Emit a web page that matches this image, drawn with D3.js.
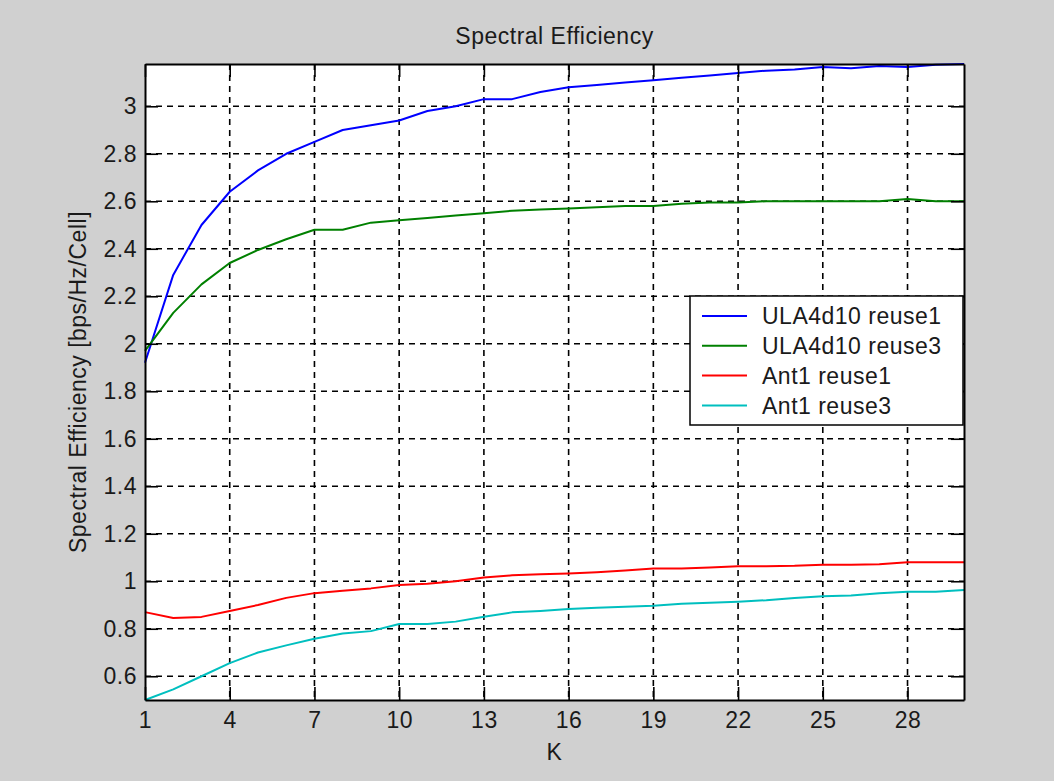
<!DOCTYPE html>
<html>
<head>
<meta charset="utf-8">
<script src="https://cdn.jsdelivr.net/npm/d3@7"></script>
<style>
  html, body { margin: 0; padding: 0; background: #d0d0d0; }
  svg { display: block; }
  text { font-family: "Liberation Sans", Arial, Helvetica, sans-serif; fill: #1a1a1a; letter-spacing: 0.5px; }
</style>
</head>
<body>
<svg id="chart" width="1054" height="781"></svg>
<script>
// Number of users K
const kValues = d3.range(1, 31);

// Spectral efficiency per cell [bps/Hz/Cell] for each configuration
const ula4d10Reuse1 = [1.92, 2.29, 2.50, 2.64, 2.73, 2.80, 2.85, 2.90, 2.92, 2.94,
                       2.98, 3.00, 3.03, 3.03, 3.06, 3.08, 3.09, 3.10, 3.11, 3.12,
                       3.13, 3.14, 3.15, 3.155, 3.165, 3.16, 3.17, 3.165, 3.175, 3.178];
const ula4d10Reuse3 = [1.97, 2.13, 2.25, 2.34, 2.395, 2.44, 2.48, 2.48, 2.51, 2.52,
                       2.53, 2.54, 2.55, 2.56, 2.565, 2.57, 2.575, 2.58, 2.58, 2.59,
                       2.595, 2.595, 2.60, 2.60, 2.60, 2.60, 2.60, 2.61, 2.60, 2.60];
const ant1Reuse1    = [0.87, 0.845, 0.85, 0.875, 0.90, 0.93, 0.95, 0.96, 0.97, 0.984,
                       0.99, 1.00, 1.016, 1.025, 1.03, 1.033, 1.038, 1.045, 1.054, 1.054,
                       1.058, 1.063, 1.063, 1.065, 1.07, 1.07, 1.072, 1.08, 1.08, 1.08];
const ant1Reuse3    = [0.50, 0.545, 0.60, 0.655, 0.70, 0.73, 0.758, 0.78, 0.79, 0.82,
                       0.82, 0.83, 0.851, 0.869, 0.875, 0.883, 0.888, 0.893, 0.897, 0.905,
                       0.91, 0.914, 0.92, 0.93, 0.937, 0.94, 0.95, 0.956, 0.956, 0.963];

const seriesNames  = ["ULA4d10 reuse1", "ULA4d10 reuse3", "Ant1 reuse1", "Ant1 reuse3"];
const seriesValues = [ula4d10Reuse1, ula4d10Reuse3, ant1Reuse1, ant1Reuse3];
const seriesColors = ["#0000ff", "#008000", "#ff0000", "#00bfbf"];

const xTickValues = [1, 4, 7, 10, 13, 16, 19, 22, 25, 28];
const yTickValues = [0.6, 0.8, 1, 1.2, 1.4, 1.6, 1.8, 2, 2.2, 2.4, 2.6, 2.8, 3];

const titleText  = "Spectral Efficiency";
const xLabelText = "K";
const yLabelText = "Spectral Efficiency [bps/Hz/Cell]";

// Layout of the axes box
const boxLeft = 145, boxRight = 964, boxTop = 64, boxBottom = 700;
const fontSize = 23;

const svg = d3.select("#chart");

const x = d3.scaleLinear().domain([1, 30]).range([boxLeft, boxRight]);
const yMin = d3.min(seriesValues, s => d3.min(s));
const yMax = d3.max(seriesValues, s => d3.max(s));
const y = d3.scaleLinear().domain([yMin, yMax]).range([boxBottom, boxTop]);

// White plotting area
svg.append("rect")
  .attr("x", boxLeft).attr("y", boxTop)
  .attr("width", boxRight - boxLeft).attr("height", boxBottom - boxTop)
  .attr("fill", "#ffffff");

// Dashed grid
const grid = svg.append("g")
  .attr("stroke", "#000").attr("stroke-width", 1.6)
  .attr("stroke-dasharray", "6,5").attr("fill", "none");
grid.selectAll("line.gx").data(xTickValues.slice(1)).join("line")
  .attr("class", "gx")
  .attr("x1", d => x(d)).attr("x2", d => x(d))
  .attr("y1", boxTop).attr("y2", boxBottom);
grid.selectAll("line.gy").data(yTickValues).join("line")
  .attr("class", "gy")
  .attr("x1", boxLeft).attr("x2", boxRight)
  .attr("y1", d => y(d)).attr("y2", d => y(d));

// Curves
const line = d3.line()
  .x((d, i) => x(kValues[i]))
  .y(d => y(d));
svg.append("g").selectAll("path").data(seriesValues).join("path")
  .attr("d", line)
  .attr("fill", "none")
  .attr("stroke", (d, i) => seriesColors[i])
  .attr("stroke-width", 2)
  .attr("stroke-linejoin", "round");

// Axes with inward ticks on all four sides
const tickLen = 13;
const fmtY = d3.format("~g");

const xAxisB = d3.axisBottom(x).tickValues(xTickValues).tickSizeInner(-tickLen).tickSizeOuter(0).tickPadding(12);
const xAxisT = d3.axisTop(x).tickValues(xTickValues).tickSizeInner(-tickLen).tickSizeOuter(0).tickFormat("");
const yAxisL = d3.axisLeft(y).tickValues(yTickValues).tickSizeInner(-tickLen).tickSizeOuter(0).tickPadding(8).tickFormat(fmtY);
const yAxisR = d3.axisRight(y).tickValues(yTickValues).tickSizeInner(-tickLen).tickSizeOuter(0).tickFormat("");

function styleAxis(g) {
  g.select(".domain").attr("stroke", "#000").attr("stroke-width", 2);
  g.selectAll(".tick line").attr("stroke", "#000").attr("stroke-width", 1.6);
  g.selectAll(".tick text")
    .attr("font-family", "Liberation Sans, Arial, sans-serif")
    .attr("font-size", fontSize)
    .attr("fill", "#1a1a1a");
}

svg.append("g").attr("transform", `translate(0,${boxBottom})`).call(xAxisB).call(styleAxis);
svg.append("g").attr("transform", `translate(0,${boxTop})`).call(xAxisT).call(styleAxis);
svg.append("g").attr("transform", `translate(${boxLeft},0)`).call(yAxisL).call(styleAxis);
svg.append("g").attr("transform", `translate(${boxRight},0)`).call(yAxisR).call(styleAxis);

// Title and axis labels
svg.append("text")
  .attr("x", (boxLeft + boxRight) / 2).attr("y", 44)
  .attr("text-anchor", "middle").attr("font-size", fontSize)
  .text(titleText);
svg.append("text")
  .attr("x", (boxLeft + boxRight) / 2).attr("y", 760)
  .attr("text-anchor", "middle").attr("font-size", fontSize)
  .text(xLabelText);
svg.append("text")
  .attr("transform", `translate(86,${(boxTop + boxBottom) / 2}) rotate(-90)`)
  .attr("text-anchor", "middle").attr("font-size", fontSize)
  .text(yLabelText);

// Legend
const legend = svg.append("g");
legend.append("rect")
  .attr("x", 690).attr("y", 296)
  .attr("width", 273).attr("height", 129)
  .attr("fill", "#ffffff").attr("stroke", "#000").attr("stroke-width", 1.5);
const rows = legend.selectAll("g.row").data(seriesNames).join("g")
  .attr("class", "row")
  .attr("transform", (d, i) => `translate(0,${316 + i * 29.8})`);
rows.append("line")
  .attr("x1", 702).attr("x2", 747).attr("y1", 0).attr("y2", 0)
  .attr("stroke", (d, i) => seriesColors[i]).attr("stroke-width", 2);
rows.append("text")
  .attr("x", 762).attr("y", 0).attr("dy", "0.36em")
  .attr("font-size", fontSize)
  .text(d => d);
</script>
</body>
</html>
